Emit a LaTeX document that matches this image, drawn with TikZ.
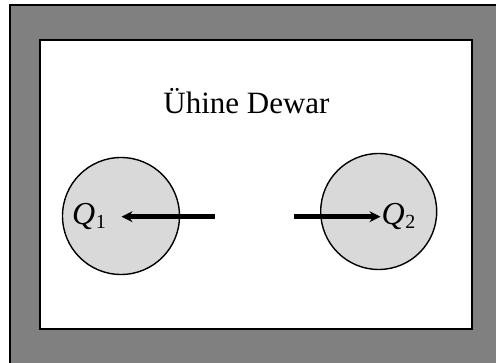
\documentclass[tikz,border=0pt]{standalone}
\usepackage{fontspec}
\setmainfont{Liberation Serif}
\usetikzlibrary{arrows.meta}
\definecolor{outergray}{HTML}{808080}
\definecolor{ballgray}{HTML}{D9D9D9}
\tikzset{
  frame/.style={draw=black, line width=1.6pt},
  ball/.style={circle, draw=black, line width=1.4pt, fill=ballgray, inner sep=0pt},
  force/.style={line width=4.5pt, -{Stealth[length=11pt,width=11pt]}, shorten >=0pt},
  qlabel/.style={inner sep=0pt, anchor=base west, font=\fontsize{32}{32}\selectfont},
  title/.style={inner sep=0pt, anchor=base, font=\fontsize{31}{31}\selectfont}
}
\newcommand{\qsub}[1]{\textit{Q}\kern0.5pt\raisebox{-4pt}{\fontsize{20}{20}\selectfont #1}}
\begin{document}
\begin{tikzpicture}[x=1pt,y=-1pt]
\useasboundingbox (0,0) rectangle (496,363);
\clip (0,0) rectangle (496,363);
\fill[white] (0,0) rectangle (496,363);
\draw[frame, fill=outergray] (10,5) rectangle (520,390);
\draw[frame, fill=white] (40,40) rectangle (472,329);
\node[title] (t) at (246.5,113.5) {Ühine Dewar};
\node[ball, minimum size=117pt] (c1) at (121,216) {};
\node[ball, minimum size=116pt] (c2) at (378.7,211.5) {};
\node[qlabel] (q1) at (72,224.5) {\qsub{1}};
\node[qlabel] (q2) at (381.5,224.5) {\qsub{2}};
\coordinate (a1s) at (215,216.7);
\coordinate (a1e) at (121.5,216.7);
\coordinate (a2s) at (294,216.7);
\coordinate (a2e) at (380.5,216.7);
\draw[force] (a1s) -- (a1e);
\draw[force] (a2s) -- (a2e);
\end{tikzpicture}
\end{document}
